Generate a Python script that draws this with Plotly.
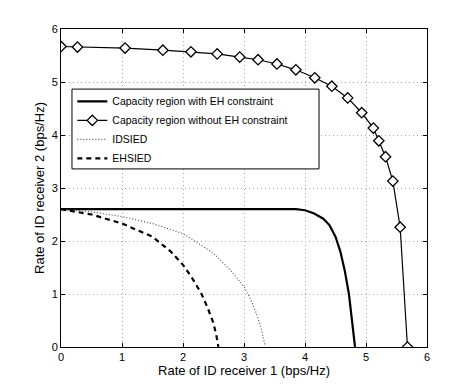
import plotly.graph_objects as go

# Capacity region with EH constraint
eh_x = [0, 1.0, 2.0, 3.0, 3.85, 4.0, 4.15, 4.3, 4.4, 4.5, 4.58, 4.65, 4.72, 4.76, 4.79, 4.82]
eh_y = [2.6, 2.6, 2.6, 2.6, 2.6, 2.58, 2.52, 2.42, 2.3, 2.08, 1.8, 1.45, 1.0, 0.6, 0.3, 0.0]

# Capacity region without EH constraint
noeh_x = [0, 0.27, 1.05, 1.67, 2.13, 2.56, 2.93, 3.23, 3.54, 3.85, 4.16, 4.44, 4.70, 4.93,
          5.12, 5.21, 5.32, 5.44, 5.56, 5.68]
noeh_y = [5.67, 5.66, 5.64, 5.60, 5.57, 5.53, 5.47, 5.42, 5.34, 5.23, 5.08, 4.92, 4.70, 4.42,
          4.13, 3.89, 3.59, 3.13, 2.26, 0.0]

# IDSIED
id_x = [0, 0.5, 1.0, 1.5, 2.0, 2.5, 2.8, 3.0, 3.1, 3.2, 3.28, 3.34]
id_y = [2.6, 2.55, 2.46, 2.33, 2.14, 1.77, 1.42, 1.14, 0.92, 0.64, 0.35, 0.05]

# EHSIED
ehs_x = [0, 0.5, 1.0, 1.5, 1.8, 2.0, 2.15, 2.3, 2.4, 2.5, 2.55, 2.58]
ehs_y = [2.6, 2.5, 2.33, 2.08, 1.8, 1.55, 1.3, 1.01, 0.75, 0.45, 0.2, 0.0]

x_ticks = [0, 1, 2, 3, 4, 5, 6]
y_ticks = [0, 1, 2, 3, 4, 5, 6]

fig = go.Figure()
fig.add_trace(go.Scatter(x=eh_x, y=eh_y, mode="lines", name="Capacity region with EH constraint",
                         line=dict(color="black", width=2.2)))
fig.add_trace(go.Scatter(x=noeh_x, y=noeh_y, mode="lines+markers",
                         name="Capacity region without EH constraint",
                         line=dict(color="black", width=1.2),
                         marker=dict(symbol="diamond", size=8, color="white",
                                     line=dict(color="black", width=1.3))))
fig.add_trace(go.Scatter(x=id_x, y=id_y, mode="lines", name="IDSIED",
                         line=dict(color="#555555", width=1.2, dash="1px,2px")))
fig.add_trace(go.Scatter(x=ehs_x, y=ehs_y, mode="lines", name="EHSIED",
                         line=dict(color="black", width=2.2, dash="5px,4px")))

axis_common = dict(
    range=[0, 6], tickvals=x_ticks, showline=True, linecolor="black", linewidth=1,
    mirror="ticks", ticks="inside", ticklen=4, tickcolor="black",
    showgrid=True, gridcolor="#aaaaaa", griddash="1px,3px", gridwidth=1,
    zeroline=False, automargin=False,
    tickfont=dict(family="Liberation Sans, Arial", size=11, color="black"),
)

fig.update_layout(
    width=472, height=391,
    margin=dict(l=53, r=53, t=21, b=52),
    paper_bgcolor="white", plot_bgcolor="white",
    font=dict(family="Liberation Sans, Arial", size=11, color="black"),
    xaxis=dict(axis_common, title=dict(text="Rate of ID receiver 1 (bps/Hz)", standoff=0,
                                       font=dict(size=13))),
    yaxis=dict(axis_common, tickvals=y_ticks,
               title=dict(text="Rate of ID receiver 2 (bps/Hz)", standoff=4, font=dict(size=13))),
    legend=dict(x=0.031, y=0.818, xanchor="left", yanchor="top", borderwidth=0,
                bgcolor="rgba(0,0,0,0)", font=dict(size=10.5), tracegroupgap=0,
                itemwidth=30),
    showlegend=True,
    shapes=[dict(type="rect", xref="paper", yref="paper", x0=0.030, x1=0.705,
                 y0=0.560, y1=0.811, fillcolor="white", line=dict(color="black", width=1),
                 layer="above")],
)

fig.write_html("out.html")
